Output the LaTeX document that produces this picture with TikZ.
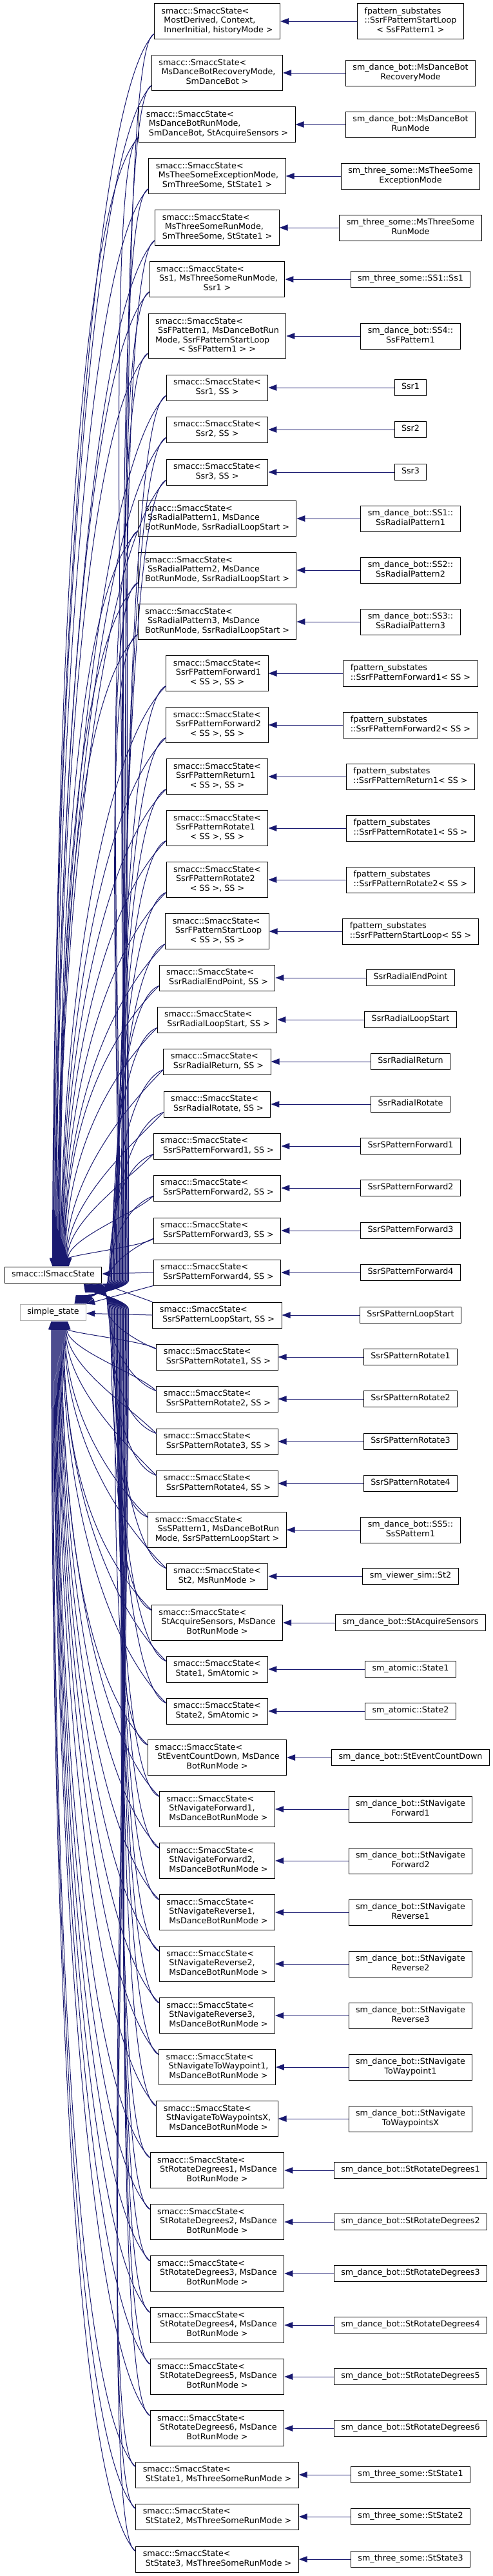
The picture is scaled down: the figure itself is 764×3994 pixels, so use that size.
\documentclass[tikz,border=0pt]{standalone}
\usepackage{fontspec}
\setmainfont{DejaVu Sans}
\usetikzlibrary{arrows.meta,calc}

\definecolor{edgeblue}{HTML}{191970}
\newdimen\yfrom
\newcommand{\doxyfont}{\fontsize{12.7}{14.3}\selectfont}
\newcommand{\smst}{smacc::SmaccState<}
% box texts: all lines left, the last one centred
\newcommand{\lone}[1]{\begin{tabular}{@{}c@{}}#1\end{tabular}}
\newcommand{\ltwo}[2]{\begin{tabular}{@{}l@{}}#1\\\multicolumn{1}{@{}c@{}}{#2}\end{tabular}}
\newcommand{\lthree}[3]{\begin{tabular}{@{}l@{}}#1\\#2\\\multicolumn{1}{@{}c@{}}{#3}\end{tabular}}
\newcommand{\lfour}[4]{\begin{tabular}{@{}l@{}}#1\\#2\\#3\\\multicolumn{1}{@{}c@{}}{#4}\end{tabular}}

\tikzset{
  classbox/.style={draw=black, line width=1pt, fill=white, inner xsep=11pt, inner ysep=5.7pt, font=\doxyfont},
  extbox/.style={classbox, draw=black!30},
  inh/.style={draw=edgeblue, line width=1pt, -{Triangle[length=13pt,width=9.5pt]}},
}

\begin{document}
\begin{tikzpicture}[x=1pt, y=-1pt]
    \path[use as bounding box, fill=white] (0,0) rectangle (764,3994);

    % Base classes on the left
    \node[classbox] (ismacc) at (82.5,1977) {\lone{smacc::ISmaccState}};
    \node[extbox] (simplest) at (82.5,2035) {\lone{simple\_state}};

    % Template instances (middle column) and derived states (right column)
    \node[classbox] (T1) at (337,33) {\lthree{\smst}{\ MostDerived, Context,}{\ InnerInitial, historyMode >}};
    \node[classbox] (C1) at (637,33) {\lthree{fpattern\_substates}{::SsrFPatternStartLoop}{< SsFPattern1 >}};
    \node[classbox] (T2) at (337,113) {\lthree{\smst}{\ MsDanceBotRecoveryMode,}{SmDanceBot >}};
    \node[classbox] (C2) at (637,113) {\ltwo{sm\_dance\_bot::MsDanceBot}{RecoveryMode}};
    \node[classbox] (T3) at (337,193) {\lthree{\smst}{\ MsDanceBotRunMode,}{\ SmDanceBot, StAcquireSensors >}};
    \node[classbox] (C3) at (637,193) {\ltwo{sm\_dance\_bot::MsDanceBot}{RunMode}};
    \node[classbox] (T4) at (337,273) {\lthree{\smst}{\ MsTheeSomeExceptionMode,}{SmThreeSome, StState1 >}};
    \node[classbox] (C4) at (637,273) {\ltwo{sm\_three\_some::MsTheeSome}{ExceptionMode}};
    \node[classbox] (T5) at (337,353) {\lthree{\smst}{\ MsThreeSomeRunMode,}{SmThreeSome, StState1 >}};
    \node[classbox] (C5) at (637,353) {\ltwo{sm\_three\_some::MsThreeSome}{RunMode}};
    \node[classbox] (T6) at (337,433) {\lthree{\smst}{\ Ss1, MsThreeSomeRunMode,}{Ssr1 >}};
    \node[classbox] (C6) at (637,433) {\lone{sm\_three\_some::SS1::Ss1}};
    \node[classbox] (T7) at (337,521) {\lfour{\smst}{\ SsFPattern1, MsDanceBotRun}{Mode, SsrFPatternStartLoop}{< SsFPattern1 > >}};
    \node[classbox] (C7) at (637,521) {\ltwo{sm\_dance\_bot::SS4::}{SsFPattern1}};

    \foreach \k/\y/\n in {8/601/1, 9/666/2, 10/732/3} {
      \node[classbox] (T\k) at (337,\y) {\ltwo{\smst}{Ssr\n, SS >}};
      \node[classbox] (C\k) at (637,\y) {\lone{Ssr\n}};
    }
    \foreach \k/\y/\n in {11/804/1, 12/884/2, 13/964/3} {
      \node[classbox] (T\k) at (337,\y) {\lthree{\smst}{\ SsRadialPattern\n, MsDance}{BotRunMode, SsrRadialLoopStart >}};
      \node[classbox] (C\k) at (637,\y) {\ltwo{sm\_dance\_bot::SS\n::}{SsRadialPattern\n}};
    }
    \foreach \k/\y/\nm in {14/1044/Forward1, 15/1124/Forward2, 16/1204/Return1,
                          17/1284/Rotate1, 18/1364/Rotate2, 19/1444/StartLoop} {
      \node[classbox] (T\k) at (337,\y) {\lthree{\smst}{\ SsrFPattern\nm}{< SS >, SS >}};
      \node[classbox] (C\k) at (637,\y) {\ltwo{fpattern\_substates}{::SsrFPattern\nm< SS >}};
    }
    \foreach \k/\y/\nm in {20/1516/SsrRadialEndPoint, 21/1581/SsrRadialLoopStart, 22/1646/SsrRadialReturn,
                          23/1712/SsrRadialRotate, 24/1777/SsrSPatternForward1, 25/1842/SsrSPatternForward2,
                          26/1908/SsrSPatternForward3, 27/1973/SsrSPatternForward4, 28/2039/SsrSPatternLoopStart,
                          29/2104/SsrSPatternRotate1, 30/2169/SsrSPatternRotate2, 31/2235/SsrSPatternRotate3,
                          32/2300/SsrSPatternRotate4} {
      \node[classbox] (T\k) at (337,\y) {\ltwo{\smst}{\ \nm, SS >}};
      \node[classbox] (C\k) at (637,\y) {\lone{\nm}};
    }

    \node[classbox] (T33) at (337,2372) {\lthree{\smst}{\ SsSPattern1, MsDanceBotRun}{Mode, SsrSPatternLoopStart >}};
    \node[classbox] (C33) at (637,2372) {\ltwo{sm\_dance\_bot::SS5::}{SsSPattern1}};
    \node[classbox] (T34) at (337,2444) {\ltwo{\smst}{St2, MsRunMode >}};
    \node[classbox] (C34) at (637,2444) {\lone{sm\_viewer\_sim::St2}};
    \node[classbox] (T35) at (337,2516) {\lthree{\smst}{\ StAcquireSensors, MsDance}{BotRunMode >}};
    \node[classbox] (C35) at (637,2516) {\lone{sm\_dance\_bot::StAcquireSensors}};
    \foreach \k/\y/\n in {36/2588/1, 37/2653/2} {
      \node[classbox] (T\k) at (337,\y) {\ltwo{\smst}{State\n, SmAtomic >}};
      \node[classbox] (C\k) at (637,\y) {\lone{sm\_atomic::State\n}};
    }
    \node[classbox] (T38) at (337,2725) {\lthree{\smst}{\ StEventCountDown, MsDance}{BotRunMode >}};
    \node[classbox] (C38) at (637,2725) {\lone{sm\_dance\_bot::StEventCountDown}};
    \foreach \k/\y/\nm in {39/2805/Forward1, 40/2885/Forward2, 41/2965/Reverse1, 42/3045/Reverse2,
                          43/3125/Reverse3, 44/3205/ToWaypoint1, 45/3285/ToWaypointsX} {
      \node[classbox] (T\k) at (337,\y) {\lthree{\smst}{\ StNavigate\nm,}{\ MsDanceBotRunMode >}};
      \node[classbox] (C\k) at (637,\y) {\ltwo{sm\_dance\_bot::StNavigate}{\nm}};
    }
    \foreach \k/\y/\n in {46/3365/1, 47/3445/2, 48/3525/3, 49/3605/4, 50/3685/5, 51/3765/6} {
      \node[classbox] (T\k) at (337,\y) {\lthree{\smst}{\ StRotateDegrees\n, MsDance}{BotRunMode >}};
      \node[classbox] (C\k) at (637,\y) {\lone{sm\_dance\_bot::StRotateDegrees\n}};
    }
    \foreach \k/\y/\n in {52/3837/1, 53/3902/2, 54/3968/3} {
      \node[classbox] (T\k) at (337,\y) {\ltwo{\smst}{\ StState\n, MsThreeSomeRunMode >}};
      \node[classbox] (C\k) at (637,\y) {\lone{sm\_three\_some::StState\n}};
    }

    % Derived state -> its template instance
    \foreach \k in {1,...,54} {
      \draw[inh] (C\k) -- (T\k);
    }

    % Instances above the bases: down to ISmaccState (top) and simple_state (past the right)
    \foreach \k in {1,...,26} {
      \pgfmathsetmacro{\dxa}{74+\k}
      \pgfmathsetmacro{\xb}{201-1.3*\k}
      \pgfmathsetmacro{\dxs}{19.5-0.75*\k}
      \coordinate (st\k) at ([yshift=8pt]T\k.south west);
      \coordinate (ia\k) at ([xshift=\dxa pt]ismacc.north west);
      \coordinate (wb\k) at (\xb,1985);
      \coordinate (sb\k) at ([xshift=-\dxs pt]simplest.north east);
      \pgfextracty{\yfrom}{\pgfpointanchor{st\k}{center}}
      \pgfmathsetmacro{\da}{0.4*(\yfrom+1964)}
      \pgfmathsetmacro{\la}{min(150,0.35*(\yfrom+1964))}
      \pgfmathsetmacro{\db}{0.4*(\yfrom+1985)}
      \pgfmathsetmacro{\lb}{min(60,0.35*(\yfrom+1985))}
      \draw[inh] (st\k) .. controls ($(st\k)+(225:\la pt)$) and ($(ia\k)+(0pt,\da pt)$) .. (ia\k);
      \draw[inh] (st\k) .. controls ($(st\k)+(200:\lb pt)$) and ($(wb\k)+(0pt,\db pt)$) .. (wb\k)
        .. controls ($(wb\k)+(0pt,-14pt)$) and ($(sb\k)+(60:12pt)$) .. (sb\k);
    }

    % the two instances level with the bases
    \draw[inh] (T27.west) -- (ismacc);
    \draw[inh] (T27.south west) -- (simplest.north east);
    \draw[inh] (T28.west) -- (simplest);
    \draw[inh] (T28.north west) -- (ismacc.south east);

    % Instances below the bases: up to simple_state (bottom) and ISmaccState (past the right)
    \foreach \k in {29,...,54} {
      \pgfmathtruncatemacro{\j}{\k-28}
      \pgfmathsetmacro{\dxa}{75-\j}
      \pgfmathsetmacro{\xb}{165.7+1.3*\j}
      \pgfmathsetmacro{\dxs}{1.1*\j}
      \coordinate (st\k) at ([yshift=-8pt]T\k.north west);
      \coordinate (ia\k) at ([xshift=\dxa pt]simplest.south west);
      \coordinate (wb\k) at (\xb,2030);
      \coordinate (sb\k) at ([xshift=-\dxs pt]ismacc.south east);
      \pgfextracty{\yfrom}{\pgfpointanchor{st\k}{center}}
      \pgfmathsetmacro{\da}{0.4*(-2047-\yfrom)}
      \pgfmathsetmacro{\la}{min(150,0.35*(-2047-\yfrom))}
      \pgfmathsetmacro{\db}{0.4*(-2030-\yfrom)}
      \pgfmathsetmacro{\lb}{min(60,0.35*(-2030-\yfrom))}
      \draw[inh] (st\k) .. controls ($(st\k)+(135:\la pt)$) and ($(ia\k)+(0pt,-\da pt)$) .. (ia\k);
      \draw[inh] (st\k) .. controls ($(st\k)+(160:\lb pt)$) and ($(wb\k)+(0pt,-\db pt)$) .. (wb\k)
        .. controls ($(wb\k)+(0pt,14pt)$) and ($(sb\k)+(-60:12pt)$) .. (sb\k);
    }
  \end{tikzpicture}
\end{document}
